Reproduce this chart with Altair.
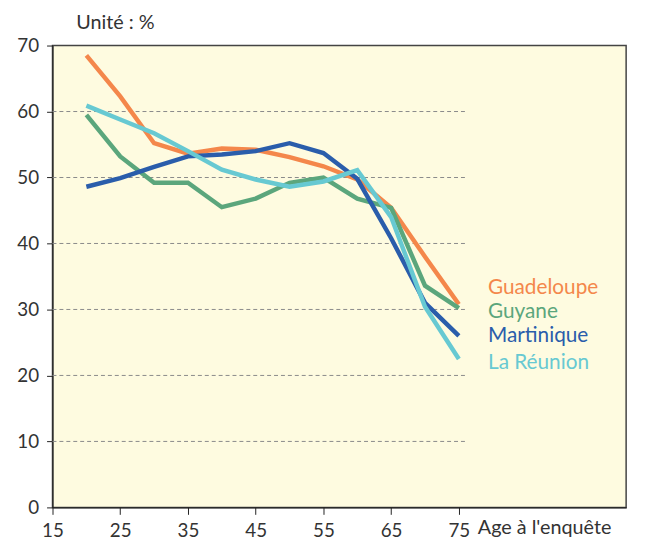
import altair as alt
import pandas as pd

ages = [20, 25, 30, 35, 40, 45, 50, 55, 60, 65, 70, 75]
guadeloupe = [68.5, 62.3, 55.2, 53.6, 54.4, 54.2, 53.1, 51.7, 49.7, 45.4, 38.0, 30.8]
guyane = [59.5, 53.2, 49.2, 49.2, 45.5, 46.8, 49.2, 50.0, 46.8, 45.4, 33.6, 30.2]
martinique = [48.6, 49.9, 51.6, 53.2, 53.5, 54.0, 55.2, 53.7, 49.8, 40.8, 31.0, 26.0]
reunion = [60.9, 58.8, 56.7, 54.0, 51.2, 49.7, 48.6, 49.4, 51.1, 44.0, 30.4, 22.5]

series_names = ["Guadeloupe", "Guyane", "Martinique", "La Réunion"]
series_colors = ["#F4874B", "#5BA67C", "#2A5DAB", "#67C9D2"]
label_y = [33.2, 29.6, 26.0, 21.9]
gridlines = [10, 20, 30, 40, 50, 60]
x_ticks = [15, 25, 35, 45, 55, 65, 75]
y_ticks = [0, 10, 20, 30, 40, 50, 60, 70]

FONT = "Lato"

rows = []
for name, vals in zip(series_names, [guadeloupe, guyane, martinique, reunion]):
    for a, v in zip(ages, vals):
        rows.append({"age": a, "value": v, "serie": name})
df = pd.DataFrame(rows)

lab_df = pd.DataFrame({"serie": series_names, "y": label_y, "x": [79.3] * 4})
grid_df = pd.DataFrame({"y": gridlines, "x0": [15] * len(gridlines), "x1": [76.3] * len(gridlines)})

xscale = alt.Scale(domain=[15, 99.7], nice=False, zero=False)
yscale = alt.Scale(domain=[0, 70], nice=False)
color = alt.Color("serie:N", scale=alt.Scale(domain=series_names, range=series_colors), legend=None)

xaxis = alt.Axis(values=x_ticks, title=None, grid=False, labelFont=FONT, labelFontSize=19,
                 labelColor="#333", tickColor="#222", domainColor="#222", tickSize=7,
                 labelPadding=7, labelFlush=False, domainWidth=1.2)
yaxis = alt.Axis(values=y_ticks, title=None, grid=False, labelFont=FONT, labelFontSize=19,
                 labelColor="#333", tickColor="#222", domainColor="#222", tickSize=6,
                 labelPadding=8, domainWidth=1.2)

grid = alt.Chart(grid_df).mark_rule(color="#8a8a8a", strokeDash=[4, 3], strokeWidth=1).encode(
    x=alt.X("x0:Q", scale=xscale, axis=xaxis),
    x2="x1:Q",
    y=alt.Y("y:Q", scale=yscale, axis=yaxis),
)

lines = alt.Chart(df).mark_line(strokeWidth=4.5, strokeJoin="miter").encode(
    x=alt.X("age:Q", scale=xscale, axis=xaxis),
    y=alt.Y("value:Q", scale=yscale, axis=yaxis),
    color=color,
    detail="serie:N",
)

labels = alt.Chart(lab_df).mark_text(align="left", baseline="middle", font=FONT, fontSize=21).encode(
    x=alt.X("x:Q", scale=xscale, axis=xaxis),
    y=alt.Y("y:Q", scale=yscale, axis=yaxis),
    text="serie:N",
    color=color,
)

xtitle = alt.Chart(pd.DataFrame({"t": ["Age à l'enquête"], "x": [77.8]})).mark_text(
    align="left", baseline="middle", font=FONT, fontSize=20, color="#333"
).encode(x=alt.X("x:Q", scale=xscale, axis=xaxis), y=alt.value(488), text="t:N")

unit = alt.Chart(pd.DataFrame({"t": ["Unité : %"]})).mark_text(
    align="left", baseline="middle", font=FONT, fontSize=20, color="#333"
).encode(x=alt.value(24), y=alt.value(-23), text="t:N")

chart = alt.layer(grid, lines, labels, xtitle, unit).properties(
    width=580, height=467,
    background="white",
    autosize=alt.AutoSizeParams(type="none"),
    padding={"left": 45, "top": 35, "right": 12, "bottom": 30},
).configure_view(fill="#FEFBE0", stroke="#444", strokeWidth=1.5)

chart.save("out.html", embed_options={"renderer": "svg", "actions": False})
